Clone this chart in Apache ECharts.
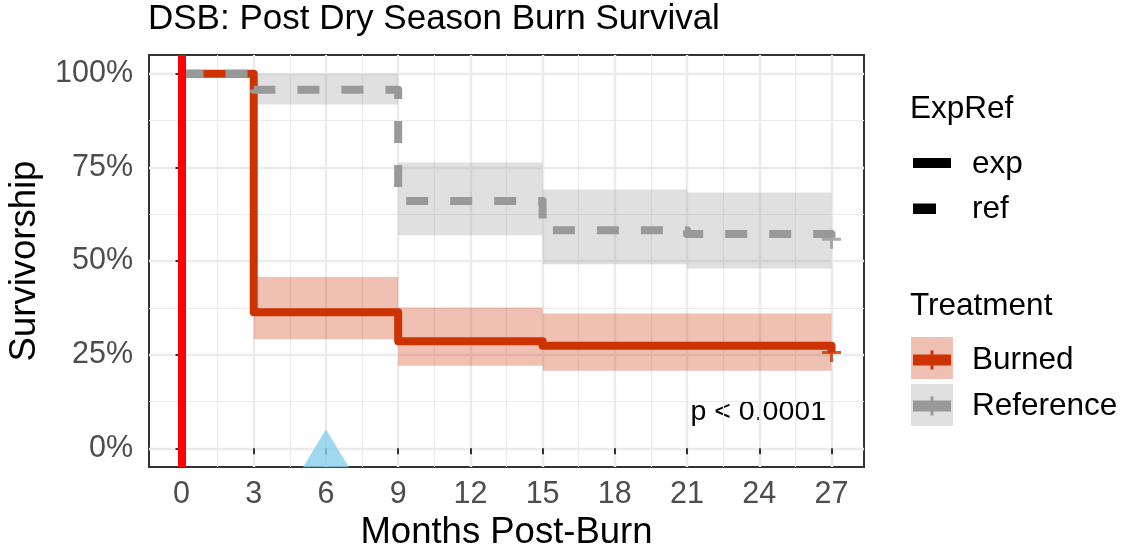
<!DOCTYPE html>
<html>
<head>
<meta charset="utf-8">
<script src="https://cdn.jsdelivr.net/npm/echarts@6/dist/echarts.min.js"></script>
<style>
  html, body { margin: 0; padding: 0; background: #fff; }
  #chart { width: 1128px; height: 552px; }
</style>
</head>
<body>
<div id="chart"></div>
<script>
// tick labels
const monthTicks = [0, 3, 6, 9, 12, 15, 18, 21, 24, 27]
const minorMonthTicks = [1.5, 4.5, 7.5, 10.5, 13.5, 16.5, 19.5, 22.5, 25.5]
const pctTicks = [0, 25, 50, 75, 100]
const minorPctTicks = [12.5, 37.5, 62.5, 87.5]

// Burned (exp) KM curve + 95% CI
const burnedTime = [0, 3, 9, 15, 27]
const burnedSurv = [100, 36.3, 28.6, 27.4, 25.6]
const burnedUpper = [100, 45.7, 37.6, 36.0, 36.0]
const burnedLower = [100, 29.1, 22.0, 20.7, 20.7]
const burnedCensorTime = [27]
const burnedCensorSurv = [25.6]

// Reference (ref) KM curve + 95% CI
const refTime = [0, 3, 9, 15, 21, 27]
const refSurv = [100, 95.7, 66.0, 58.2, 57.2, 55.8]
const refUpper = [100, 100, 76.3, 69.1, 68.3, 68.3]
const refLower = [100, 91.8, 56.9, 49.1, 48.0, 48.0]
const refCensorTime = [27]
const refCensorSurv = [55.8]

// burn date line and marker
const burnDate = [0]
const markerMonths = [6]
const markerLevel = [0]

const FONT = 'Liberation Sans, Arial, sans-serif'
const RED = '#CC3300'
const GREY = '#999999'

const zip = (a, b) => a.map((v, i) => [v, b[i]])

function bandSeries (name, time, upper, lower, fill) {
  const rows = []
  for (let i = 0; i < time.length - 1; i++) {
    rows.push([time[i], time[i + 1], lower[i], upper[i]])
  }
  return {
    type: 'custom',
    name: name,
    z: 1,
    silent: true,
    clip: true,
    data: rows,
    encode: { x: [0, 1], y: [2, 3] },
    renderItem: function (params, api) {
      const p0 = api.coord([api.value(0), api.value(3)])
      const p1 = api.coord([api.value(1), api.value(2)])
      return {
        type: 'rect',
        shape: { x: p0[0], y: p0[1], width: p1[0] - p0[0], height: p1[1] - p0[1] },
        style: { fill: fill }
      }
    }
  }
}

// censor mark "+"
const plusPath = 'path://M0,8H19V11H0Z M8,0H11V19H8Z'

const chart = echarts.init(document.getElementById('chart'), null, { renderer: 'canvas' })

const option = {
  animation: false,
  backgroundColor: '#ffffff',
  textStyle: { fontFamily: FONT },
  title: {
    text: 'DSB: Post Dry Season Burn Survival',
    left: 148,
    top: 2,
    padding: 0,
    textStyle: { fontFamily: FONT, fontSize: 35, fontWeight: 'normal', color: '#000' }
  },
  grid: {
    left: 149, right: 264, top: 55, bottom: 85,
    outerBoundsMode: 'none',
    containLabel: false,
    show: true, borderColor: '#333333', borderWidth: 2, backgroundColor: 'transparent'
  },
  xAxis: [
    {
      type: 'value', min: -1.35, max: 28.35,
      name: 'Months Post-Burn', nameLocation: 'middle', nameGap: 45,
      nameTextStyle: { fontFamily: FONT, fontSize: 36.5, color: '#000' },
      axisLine: { show: false },
      axisTick: { show: true, length: 6, customValues: monthTicks, lineStyle: { color: '#333333', width: 2 } },
      axisLabel: { customValues: monthTicks, margin: 12, fontFamily: FONT, fontSize: 30.5, color: '#4D4D4D' },
      splitLine: { show: true, lineStyle: { color: '#EBEBEB', width: 2.4 } }
    },
    {
      type: 'value', min: -1.35, max: 28.35, position: 'bottom',
      axisLine: { show: false },
      axisTick: { show: false, customValues: minorMonthTicks },
      axisLabel: { show: false, customValues: minorMonthTicks },
      splitLine: { show: true, lineStyle: { color: '#EBEBEB', width: 1.2 } }
    }
  ],
  yAxis: [
    {
      type: 'value', min: -5, max: 105,
      name: 'Survivorship', nameLocation: 'middle', nameGap: 106, nameRotate: 90,
      nameTextStyle: { fontFamily: FONT, fontSize: 36.5, color: '#000' },
      axisLine: { show: false },
      axisTick: { show: true, length: 6, customValues: pctTicks, lineStyle: { color: '#333333', width: 2 } },
      axisLabel: {
        customValues: pctTicks, margin: 16, fontFamily: FONT, fontSize: 30.5, color: '#4D4D4D',
        formatter: v => v + '%'
      },
      splitLine: { show: true, lineStyle: { color: '#EBEBEB', width: 2.4 } }
    },
    {
      type: 'value', min: -5, max: 105, position: 'left',
      axisLine: { show: false },
      axisTick: { show: false, customValues: minorPctTicks },
      axisLabel: { show: false, customValues: minorPctTicks },
      splitLine: { show: true, lineStyle: { color: '#EBEBEB', width: 1.2 } }
    }
  ],
  series: [
    bandSeries('Burned CI', burnedTime, burnedUpper, burnedLower, 'rgba(204,51,0,0.3)'),
    bandSeries('Reference CI', refTime, refUpper, refLower, 'rgba(153,153,153,0.3)'),
    {
      type: 'line', name: 'Burned', step: 'end', z: 3,
      data: zip(burnedTime, burnedSurv),
      showSymbol: false, silent: true,
      lineStyle: { color: RED, width: 8, join: 'round', cap: 'butt' }
    },
    {
      type: 'line', name: 'Reference', step: 'end', z: 4,
      data: zip(refTime, refSurv),
      showSymbol: false, silent: true,
      lineStyle: { color: GREY, width: 8, type: [22, 22], join: 'round', cap: 'butt' }
    },
    {
      type: 'scatter', name: 'censor', z: 6, silent: true,
      symbol: plusPath, symbolSize: 19,
      data: zip(burnedCensorTime, burnedCensorSurv).map(v => ({ value: v, itemStyle: { color: RED } }))
        .concat(zip(refCensorTime, refCensorSurv).map(v => ({ value: v, itemStyle: { color: GREY } })))
    },
    {
      type: 'scatter', name: 'marker', z: 2, silent: true,
      symbol: 'triangle', symbolSize: [46, 38],
      itemStyle: { color: '#87CEEB' },
      data: zip(markerMonths, markerLevel)
    },
    {
      type: 'line', name: 'burn', z: 5, data: [],
      markLine: {
        silent: true, symbol: ['none', 'none'], animation: false,
        label: { show: false },
        lineStyle: { color: '#FF0000', width: 8, type: 'solid' },
        data: burnDate.map(x => ({ xAxis: x }))
      }
    }
  ],
  graphic: [
    { type: 'text', x: 910, y: 109, style: { text: 'ExpRef', font: '31.5px ' + FONT, fill: '#000', verticalAlign: 'middle' } },
    { type: 'rect', shape: { x: 913, y: 158, width: 38, height: 10 }, style: { fill: '#000' } },
    { type: 'text', x: 972, y: 164, style: { text: 'exp', font: '31.5px ' + FONT, fill: '#000', verticalAlign: 'middle' } },
    { type: 'rect', shape: { x: 913, y: 203.5, width: 23, height: 10.5 }, style: { fill: '#000' } },
    { type: 'text', x: 972, y: 209.5, style: { text: 'ref', font: '31.5px ' + FONT, fill: '#000', verticalAlign: 'middle' } },

    { type: 'text', x: 910, y: 306, style: { text: 'Treatment', font: '31.5px ' + FONT, fill: '#000', verticalAlign: 'middle' } },
    { type: 'rect', shape: { x: 911, y: 337, width: 42, height: 42 }, style: { fill: 'rgba(204,51,0,0.3)' } },
    { type: 'rect', shape: { x: 913, y: 354.5, width: 38, height: 11 }, style: { fill: RED } },
    { type: 'rect', shape: { x: 930.5, y: 350.5, width: 3, height: 19 }, style: { fill: RED } },
    { type: 'text', x: 972, y: 360, style: { text: 'Burned', font: '31.5px ' + FONT, fill: '#000', verticalAlign: 'middle' } },
    { type: 'rect', shape: { x: 911, y: 384, width: 42, height: 42 }, style: { fill: 'rgba(153,153,153,0.3)' } },
    { type: 'rect', shape: { x: 913, y: 400.5, width: 38, height: 11 }, style: { fill: GREY } },
    { type: 'rect', shape: { x: 930.5, y: 396.5, width: 3, height: 19 }, style: { fill: GREY } },
    { type: 'text', x: 972, y: 406, style: { text: 'Reference', font: '31.5px ' + FONT, fill: '#000', verticalAlign: 'middle' } },

    { type: 'text', x: 826, y: 412, style: { text: 'p < 0.0001', font: '28.5px ' + FONT, fill: '#000', align: 'right', verticalAlign: 'middle' } }
  ]
}

chart.setOption(option)
</script>
</body>
</html>
